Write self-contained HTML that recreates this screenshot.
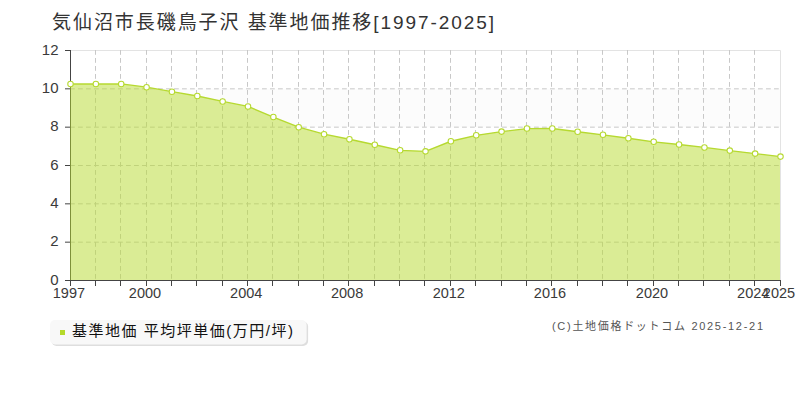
<!DOCTYPE html>
<html lang="ja"><head><meta charset="utf-8"><title>気仙沼市長磯鳥子沢 基準地価推移[1997-2025]</title>
<style>html,body{margin:0;padding:0;background:#fff;font-family:"Liberation Sans",sans-serif}svg{display:block}.sr{position:absolute;left:0;top:0;width:1px;height:1px;overflow:hidden;opacity:0;clip-path:inset(50%);white-space:nowrap}</style></head>
<body>
<svg width="800" height="400" viewBox="0 0 800 400" role="img" aria-label="気仙沼市長磯鳥子沢 基準地価推移[1997-2025]">
<title>気仙沼市長磯鳥子沢 基準地価推移[1997-2025]</title>
<rect width="800" height="400" fill="#fff"/>
<rect x="71" y="242.17" width="709" height="38.33" fill="#fcfcfc"/>
<rect x="71" y="165.50" width="709" height="38.33" fill="#fcfcfc"/>
<rect x="71" y="88.83" width="709" height="38.33" fill="#fcfcfc"/>
<path d="M71 50.5H780.5V280" fill="none" stroke="#e3e3e3" stroke-width="1"/>
<path d="M95.5 50V280M120.5 50V280M146.5 50V280M171.5 50V280M196.5 50V280M222.5 50V280M247.5 50V280M272.5 50V280M298.5 50V280M323.5 50V280M348.5 50V280M374.5 50V280M399.5 50V280M424.5 50V280M450.5 50V280M475.5 50V280M501.5 50V280M526.5 50V280M551.5 50V280M577.5 50V280M602.5 50V280M627.5 50V280M653.5 50V280M678.5 50V280M703.5 50V280M729.5 50V280M754.5 50V280M70 242.17H780M70 203.83H780M70 165.50H780M70 127.17H780M70 88.83H780" fill="none" stroke="#c8c8c8" stroke-width="1" stroke-dasharray="4.8 3.2"/>
<path d="M70.5 50V281M65 280.5H781M65 242.17H70M65 203.83H70M65 165.50H70M65 127.17H70M65 88.83H70M65 50.50H70M70.5 281V286M95.5 281V286M120.5 281V286M146.5 281V286M171.5 281V286M196.5 281V286M222.5 281V286M247.5 281V286M272.5 281V286M298.5 281V286M323.5 281V286M348.5 281V286M374.5 281V286M399.5 281V286M424.5 281V286M450.5 281V286M475.5 281V286M501.5 281V286M526.5 281V286M551.5 281V286M577.5 281V286M602.5 281V286M627.5 281V286M653.5 281V286M678.5 281V286M703.5 281V286M729.5 281V286M754.5 281V286M780.5 281V286" fill="none" stroke="#444" stroke-width="1"/>
<path d="M70 280 L70 84.00 L70.50 84.00 L95.86 84.00 L121.21 83.90 L146.57 87.20 L171.93 91.70 L197.29 96.00 L222.64 101.40 L248.00 106.40 L273.36 117.05 L298.71 127.20 L324.07 134.20 L349.43 139.25 L374.79 144.75 L400.14 150.30 L425.50 151.35 L450.86 141.25 L476.21 135.30 L501.57 131.60 L526.93 128.55 L552.29 128.50 L577.64 131.75 L603.00 134.80 L628.36 138.25 L653.71 141.80 L679.07 144.50 L704.43 147.45 L729.79 150.60 L755.14 153.60 L780.50 156.60 L780 156.60 L780 280 Z" fill="#b7db2d" fill-opacity="0.5"/>
<polyline points="70.50,84.00 95.86,84.00 121.21,83.90 146.57,87.20 171.93,91.70 197.29,96.00 222.64,101.40 248.00,106.40 273.36,117.05 298.71,127.20 324.07,134.20 349.43,139.25 374.79,144.75 400.14,150.30 425.50,151.35 450.86,141.25 476.21,135.30 501.57,131.60 526.93,128.55 552.29,128.50 577.64,131.75 603.00,134.80 628.36,138.25 653.71,141.80 679.07,144.50 704.43,147.45 729.79,150.60 755.14,153.60 780.50,156.60" fill="none" stroke="#b6d930" stroke-width="1.35" stroke-linejoin="round"/>
<circle cx="70.50" cy="84.00" r="2.75" fill="#fff" stroke="#b6d930" stroke-width="1.05"/>
<circle cx="95.86" cy="84.00" r="2.75" fill="#fff" stroke="#b6d930" stroke-width="1.05"/>
<circle cx="121.21" cy="83.90" r="2.75" fill="#fff" stroke="#b6d930" stroke-width="1.05"/>
<circle cx="146.57" cy="87.20" r="2.75" fill="#fff" stroke="#b6d930" stroke-width="1.05"/>
<circle cx="171.93" cy="91.70" r="2.75" fill="#fff" stroke="#b6d930" stroke-width="1.05"/>
<circle cx="197.29" cy="96.00" r="2.75" fill="#fff" stroke="#b6d930" stroke-width="1.05"/>
<circle cx="222.64" cy="101.40" r="2.75" fill="#fff" stroke="#b6d930" stroke-width="1.05"/>
<circle cx="248.00" cy="106.40" r="2.75" fill="#fff" stroke="#b6d930" stroke-width="1.05"/>
<circle cx="273.36" cy="117.05" r="2.75" fill="#fff" stroke="#b6d930" stroke-width="1.05"/>
<circle cx="298.71" cy="127.20" r="2.75" fill="#fff" stroke="#b6d930" stroke-width="1.05"/>
<circle cx="324.07" cy="134.20" r="2.75" fill="#fff" stroke="#b6d930" stroke-width="1.05"/>
<circle cx="349.43" cy="139.25" r="2.75" fill="#fff" stroke="#b6d930" stroke-width="1.05"/>
<circle cx="374.79" cy="144.75" r="2.75" fill="#fff" stroke="#b6d930" stroke-width="1.05"/>
<circle cx="400.14" cy="150.30" r="2.75" fill="#fff" stroke="#b6d930" stroke-width="1.05"/>
<circle cx="425.50" cy="151.35" r="2.75" fill="#fff" stroke="#b6d930" stroke-width="1.05"/>
<circle cx="450.86" cy="141.25" r="2.75" fill="#fff" stroke="#b6d930" stroke-width="1.05"/>
<circle cx="476.21" cy="135.30" r="2.75" fill="#fff" stroke="#b6d930" stroke-width="1.05"/>
<circle cx="501.57" cy="131.60" r="2.75" fill="#fff" stroke="#b6d930" stroke-width="1.05"/>
<circle cx="526.93" cy="128.55" r="2.75" fill="#fff" stroke="#b6d930" stroke-width="1.05"/>
<circle cx="552.29" cy="128.50" r="2.75" fill="#fff" stroke="#b6d930" stroke-width="1.05"/>
<circle cx="577.64" cy="131.75" r="2.75" fill="#fff" stroke="#b6d930" stroke-width="1.05"/>
<circle cx="603.00" cy="134.80" r="2.75" fill="#fff" stroke="#b6d930" stroke-width="1.05"/>
<circle cx="628.36" cy="138.25" r="2.75" fill="#fff" stroke="#b6d930" stroke-width="1.05"/>
<circle cx="653.71" cy="141.80" r="2.75" fill="#fff" stroke="#b6d930" stroke-width="1.05"/>
<circle cx="679.07" cy="144.50" r="2.75" fill="#fff" stroke="#b6d930" stroke-width="1.05"/>
<circle cx="704.43" cy="147.45" r="2.75" fill="#fff" stroke="#b6d930" stroke-width="1.05"/>
<circle cx="729.79" cy="150.60" r="2.75" fill="#fff" stroke="#b6d930" stroke-width="1.05"/>
<circle cx="755.14" cy="153.60" r="2.75" fill="#fff" stroke="#b6d930" stroke-width="1.05"/>
<circle cx="780.50" cy="156.60" r="2.75" fill="#fff" stroke="#b6d930" stroke-width="1.05"/>
<text x="52" y="29.2" font-size="19" fill="#333" textLength="442" lengthAdjust="spacing" style="font-family:'Liberation Sans','Noto Sans CJK JP',sans-serif">気仙沼市長磯鳥子沢 基準地価推移[1997-2025]</text>
<g font-size="15" fill="#3a3a3a" text-anchor="end" style="font-family:'Liberation Sans',sans-serif">
<text x="58.5" y="285.3">0</text>
<text x="58.5" y="246.3">2</text>
<text x="58.5" y="208.3">4</text>
<text x="58.5" y="170.3">6</text>
<text x="58.5" y="131.3">8</text>
<text x="58.5" y="93.3">10</text>
<text x="58.5" y="55.3">12</text>
</g>
<g font-size="14.5" fill="#3a3a3a" text-anchor="middle" style="font-family:'Liberation Sans',sans-serif">
<text x="68.9" y="298">1997</text>
<text x="145" y="298">2000</text>
<text x="246.2" y="298">2004</text>
<text x="347.1" y="298">2008</text>
<text x="448.8" y="298">2012</text>
<text x="550" y="298">2016</text>
<text x="652" y="298">2020</text>
<text x="753.2" y="298">2024</text>
<text x="779" y="298">2025</text>
</g>
<rect x="51.5" y="321.5" width="256.6" height="24.5" rx="5" fill="#dedede"/>
<rect x="50" y="320" width="256.6" height="24.5" rx="5" fill="#f8f8f8"/>
<rect x="60" y="330" width="5" height="5" fill="#b5d92a"/>
<text x="72" y="335.5" font-size="15" fill="#111" textLength="221" lengthAdjust="spacing" style="font-family:'Liberation Sans','Noto Sans CJK JP',sans-serif">基準地価 平均坪単価(万円/坪)</text>
<text x="552" y="330.3" font-size="11" fill="#555" textLength="211" lengthAdjust="spacing" style="font-family:'Liberation Sans','Noto Sans CJK JP',sans-serif">(C)土地価格ドットコム 2025-12-21</text>
</svg>
<div class="sr">気仙沼市長磯鳥子沢 基準地価推移[1997-2025] / 基準地価 平均坪単価(万円/坪) / (C)土地価格ドットコム 2025-12-21</div>
</body></html>
